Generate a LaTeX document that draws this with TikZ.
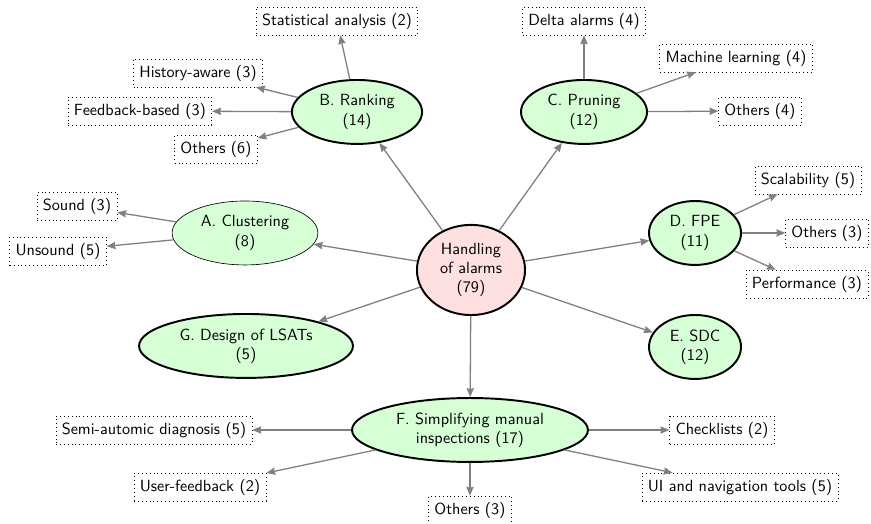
\documentclass[tikz,border=0pt]{standalone}
\usetikzlibrary{shapes.geometric, arrows.meta}

\begin{document}
\begin{tikzpicture}[>={Stealth[length=5.5pt, width=4.5pt, inset=0.5pt]},
        font=\sffamily,
        root/.style={ellipse, draw, very thick, fill=red!12, align=center, minimum width=2.35cm, minimum height=1.96cm, inner sep=0pt},
        topic/.style={ellipse, draw, very thick, fill=green!16, align=center, minimum height=1.39cm, inner sep=0pt},
        leaf/.style={draw, dotted, inner sep=3.6pt},
        link/.style={->, gray, thick}]
        \useasboundingbox (0,0) rectangle (18.935,11.391);

        \node[root]  (alarms)     at (10.239,5.522) {Handling\\of alarms\\(79)};

        \node[topic] (clustering) at (5.326,6.326)  [thin, minimum width=3.17cm] {A. Clustering\\(8)};
        \node[topic] (ranking)    at (7.761,8.957)  [minimum width=2.83cm] {B. Ranking\\(14)};
        \node[topic] (pruning)    at (12.696,8.957) [minimum width=2.74cm] {C. Pruning\\(12)};
        \node[topic] (fpe)        at (15.109,6.326) [minimum width=2.0cm] {D. FPE\\(11)};
        \node[topic] (sdc)        at (15.109,3.848) [minimum width=2.0cm] {E. SDC\\(12)};
        \node[topic] (manual)     at (10.217,2.043) [minimum width=5.13cm] {F. Simplifying manual\\inspections (17)};
        \node[topic] (lsats)      at (5.348,3.870)  [minimum width=4.65cm] {G. Design of LSATs\\(5)};

        \node[leaf] (sound)       at (1.674,6.913)  {Sound (3)};
        \node[leaf] (unsound)     at (1.261,5.935)  {Unsound (5)};

        \node[leaf] (statistical) at (7.326,10.935) {Statistical analysis (2)};
        \node[leaf] (history)     at (4.304,9.804)  {History-aware (3)};
        \node[leaf] (feedback)    at (3.043,8.978)  {Feedback-based (3)};
        \node[leaf] (others_b)    at (4.696,8.152)  {Others (6)};

        \node[leaf] (delta)       at (12.696,10.935) {Delta alarms (4)};
        \node[leaf] (learning)    at (16.0,10.130)  {Machine learning (4)};
        \node[leaf] (others_c)    at (16.522,8.978) {Others (4)};

        \node[leaf] (scalability) at (17.565,7.478) {Scalability (5)};
        \node[leaf] (others_d)    at (17.978,6.326) {Others (3)};
        \node[leaf] (performance) at (17.543,5.217) {Performance (3)};

        \node[leaf] (diagnosis)   at (3.348,2.043)  {Semi-automic diagnosis (5)};
        \node[leaf] (userfb)      at (4.348,0.804)  {User-feedback (2)};
        \node[leaf] (others_f)    at (10.217,0.304) {Others (3)};
        \node[leaf] (checklists)  at (15.696,2.043) {Checklists (2)};
        \node[leaf] (navigation)  at (16.087,0.804) {UI and navigation tools (5)};

        \path[link] (alarms)     edge (clustering)
                                 edge (ranking)
                                 edge (pruning)
                                 edge (fpe)
                                 edge (sdc)
                                 edge (manual)
                                 edge (lsats)
                    (clustering) edge (sound)
                                 edge (unsound)
                    (ranking)    edge (statistical)
                                 edge (history)
                                 edge (feedback)
                                 edge (others_b)
                    (pruning)    edge (delta)
                                 edge (learning)
                                 edge (others_c)
                    (fpe)        edge (scalability)
                                 edge (others_d)
                                 edge (performance)
                    (manual)     edge (diagnosis)
                                 edge (userfb)
                                 edge (others_f)
                                 edge (checklists)
                                 edge (navigation);
    \end{tikzpicture}
\end{document}
